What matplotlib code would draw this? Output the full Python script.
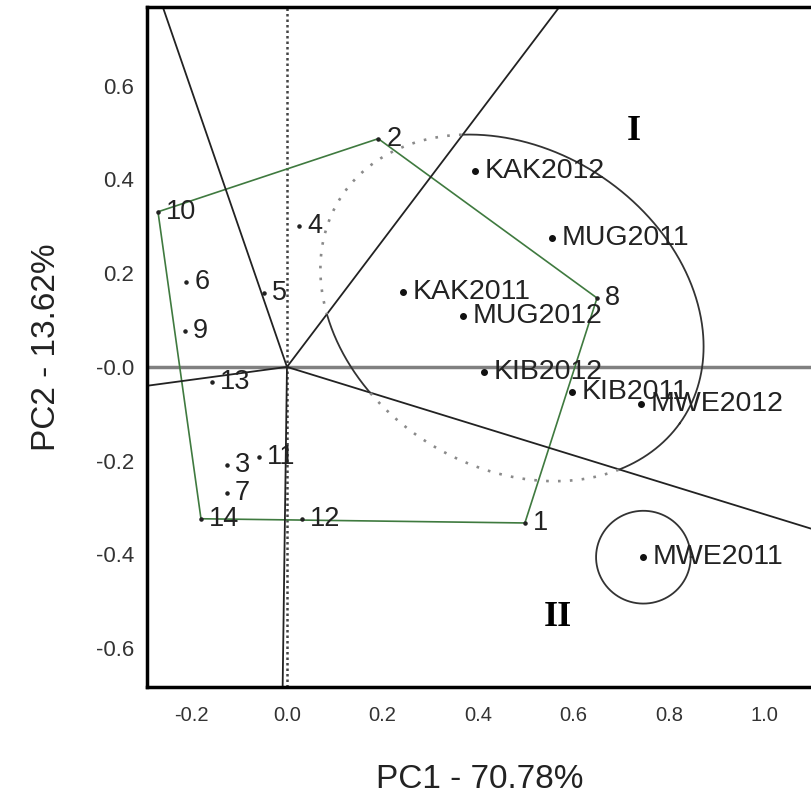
import numpy as np
import matplotlib.pyplot as plt

# genotype scores (PC1, PC2)
gen_labels = ['1', '2', '3', '4', '5', '6', '7', '8', '9', '10', '11', '12', '13', '14']
gen_x = [0.498, 0.191, -0.126, 0.025, -0.048, -0.211, -0.126, 0.649, -0.214, -0.270, -0.059, 0.031, -0.157, -0.180]
gen_y = [-0.333, 0.487, -0.209, 0.301, 0.158, 0.181, -0.269, 0.147, 0.077, 0.331, -0.192, -0.324, -0.032, -0.324]

# environment scores
env_labels = ['KAK2012', 'MUG2011', 'KAK2011', 'MUG2012', 'KIB2012', 'KIB2011', 'MWE2012', 'MWE2011']
env_x = [0.394, 0.555, 0.243, 0.368, 0.413, 0.597, 0.741, 0.746]
env_y = [0.418, 0.275, 0.160, 0.109, -0.011, -0.053, -0.079, -0.406]

# polygon (convex hull) vertices, in order
hull = ['10', '2', '8', '1', '14']

# mega-environment outlines
me1_center = (0.471, 0.126)
me1_axes = (0.429, 0.337)
me1_angle = -35
me2_radius = 0.099

xlim = (-0.293, 1.099)
ylim = (-0.683, 0.768)

plt.rcParams['font.family'] = ['Liberation Sans', 'DejaVu Sans']

fig = plt.figure(figsize=(8.12, 7.96), dpi=100)
ax = fig.add_axes([147/812, 109/796, 665/812, 680/796])
ax.set_xlim(*xlim)
ax.set_ylim(*ylim)

# axes through the origin
ax.axhline(0, color='#808080', lw=2.5, zorder=1)
ax.axvline(0, color='#444444', lw=1.8, ls=(0, (1, 1.2)), zorder=1)

# polygon
idx = [gen_labels.index(h) for h in hull] + [gen_labels.index(hull[0])]
hx = np.array(gen_x)[idx]
hy = np.array(gen_y)[idx]
ax.plot(hx, hy, color='#3f7a3f', lw=1.2, zorder=2)

# rays from the origin perpendicular to each polygon side
ray_angles = []
for i in range(len(hull)):
    dx = hx[i+1] - hx[i]
    dy = hy[i+1] - hy[i]
    nx, ny = dy, -dx
    # point outward, away from the origin
    if nx * hx[i] + ny * hy[i] < 0:
        nx, ny = -nx, -ny
    ray_angles.append(np.arctan2(ny, nx))
    ax.plot([0, 5*nx], [0, 5*ny], color='#222222', lw=1.3, zorder=2)

# sector I lies between the rays of sides 2-8 and 8-1
a_hi = ray_angles[1]
a_lo = ray_angles[2]

t = np.linspace(0, 2*np.pi, 1000)
phi = np.deg2rad(me1_angle)
ex = me1_center[0] + me1_axes[0]*np.cos(t)*np.cos(phi) - me1_axes[1]*np.sin(t)*np.sin(phi)
ey = me1_center[1] + me1_axes[0]*np.cos(t)*np.sin(phi) + me1_axes[1]*np.sin(t)*np.cos(phi)
ang = np.arctan2(ey, ex)
inside = (ang > a_lo) & (ang < a_hi)
ax.plot(np.where(inside, ex, np.nan), np.where(inside, ey, np.nan), color='#333333', lw=1.3, zorder=2)
ax.plot(np.where(~inside, ex, np.nan), np.where(~inside, ey, np.nan), color='#8a8a8a', lw=1.9,
        ls=(0, (1, 3.5)), zorder=2)

# small circle round MWE2011
k = env_labels.index('MWE2011')
cx, cy = env_x[k], env_y[k]
ax.plot(cx + me2_radius*np.cos(t), cy + me2_radius*np.sin(t), color='#333333', lw=1.3, zorder=2)

# points and labels
ax.scatter(gen_x, gen_y, s=5, color='#222222', zorder=3)
for lab, x, y in zip(gen_labels, gen_x, gen_y):
    ax.annotate(lab, (x, y), xytext=(6, 0), textcoords='offset points',
                ha='left', va='center', fontsize=19.5, color='#222222', zorder=4)

ax.scatter(env_x, env_y, s=16, color='#111111', zorder=3)
for lab, x, y in zip(env_labels, env_x, env_y):
    ax.annotate(lab, (x, y), xytext=(7, 0), textcoords='offset points',
                ha='left', va='center', fontsize=20.5, color='#222222', zorder=4)

# sector labels
ax.text(0.727, 0.503, 'I', fontsize=26, fontweight='bold', family='Liberation Serif',
        ha='center', va='center')
ax.text(0.568, -0.534, 'II', fontsize=26, fontweight='bold', family='Liberation Serif',
        ha='center', va='center')

# ticks and frame
ax.set_xticks([-0.2, 0.0, 0.2, 0.4, 0.6, 0.8, 1.0])
ax.set_xticklabels(['-0.2', '0.0', '0.2', '0.4', '0.6', '0.8', '1.0'])
ax.set_yticks([-0.6, -0.4, -0.2, 0.0, 0.2, 0.4, 0.6])
ax.set_yticklabels(['-0.6', '-0.4', '-0.2', '-0.0', '0.2', '0.4', '0.6'])
ax.tick_params(length=0, labelcolor='#333333')
ax.tick_params(axis='x', pad=14, labelsize=14.5)
ax.tick_params(axis='y', pad=9, labelsize=16)
for side in ['left', 'top', 'bottom']:
    ax.spines[side].set_linewidth(2.5)
ax.spines['right'].set_visible(False)

ax.set_xlabel('PC1 - 70.78%', fontsize=24, color='#222222')
ax.set_ylabel('PC2 - 13.62%', fontsize=24, color='#222222')
ax.xaxis.set_label_coords(0.5, -0.113)
ax.yaxis.set_label_coords(-0.128, 0.5)

fig.savefig('out.png', dpi=100)
